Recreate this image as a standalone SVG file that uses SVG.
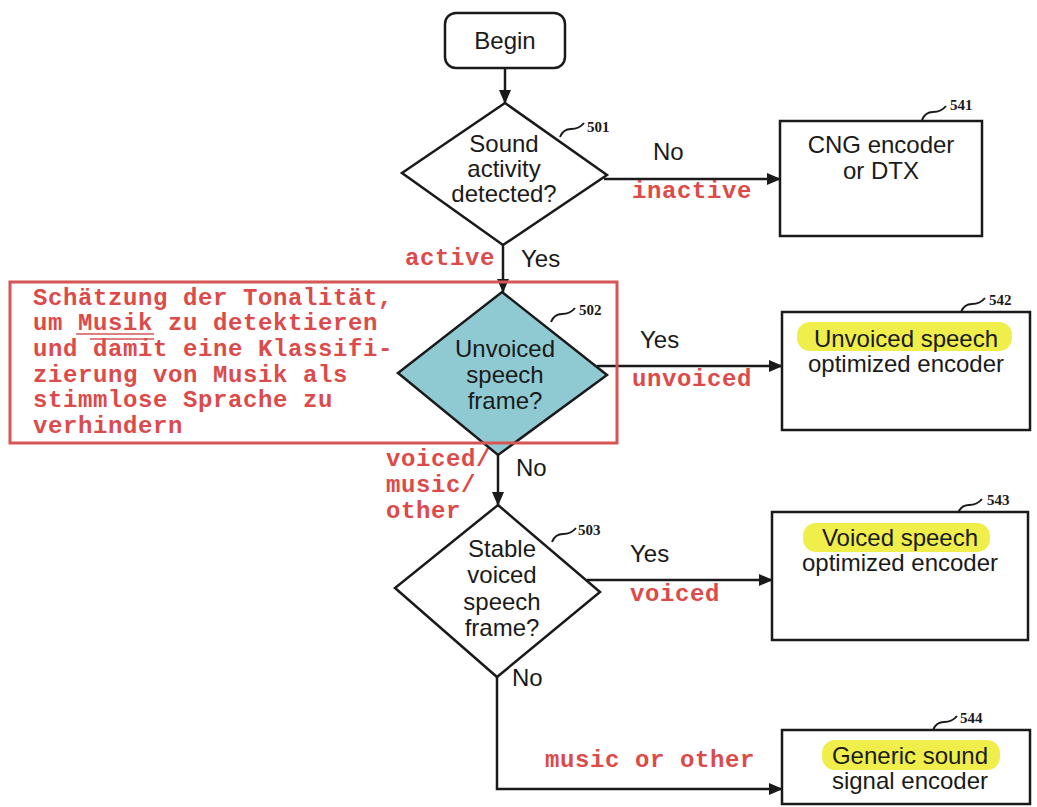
<svg xmlns="http://www.w3.org/2000/svg" width="1037" height="807" viewBox="0 0 1037 807">
<style>
.bg{fill:#ffffff}
.shape{fill:#ffffff;stroke:#1a1a1a;stroke-width:2.5}
.teal{fill:#8fcad3;stroke:#1a1a1a;stroke-width:2.5}
.t{font-family:"Liberation Sans",Arial,sans-serif;font-size:24px;fill:#1a1a1a;text-anchor:middle}
.lbl{font-family:"Liberation Sans",Arial,sans-serif;font-size:24px;fill:#1a1a1a}
.red{font-family:"Liberation Mono","Courier New",monospace;font-size:24px;font-weight:bold;fill:#dc4a4a;letter-spacing:0.6px}
.num{font-family:"Liberation Serif","Times New Roman",serif;font-size:15px;font-weight:bold;fill:#1a1a1a}
.sq{fill:none;stroke:#1a1a1a;stroke-width:2}
.conn{fill:none;stroke:#1a1a1a;stroke-width:2.5}
.hl{fill:#f0ee4a}
.redbox{fill:none;stroke:#d65555;stroke-width:3}
.redline{stroke:#d65555;stroke-width:1.5}
</style>
<defs>
<marker id="ah" markerWidth="14" markerHeight="12" refX="13" refY="6" orient="auto" markerUnits="userSpaceOnUse">
<path d="M0,0 L14,6 L0,12 z" fill="#1a1a1a"/>
</marker>
<path id="sqp" class="sq" d="M0,0 c2,-5 6,-8 11,-8 c5,0 9,-1 13,-6"/>
</defs>
<rect class="bg" x="0" y="0" width="1037" height="807"/>

<g id="connectors">
<line class="conn" x1="505" y1="68" x2="505" y2="103" marker-end="url(#ah)"/>
<line class="conn" x1="604" y1="179" x2="780" y2="179" marker-end="url(#ah)"/>
<line class="conn" x1="503" y1="245" x2="503" y2="292" marker-end="url(#ah)"/>
<line class="conn" x1="597" y1="366" x2="782" y2="366" marker-end="url(#ah)"/>
<line class="conn" x1="498" y1="455" x2="498" y2="505" marker-end="url(#ah)"/>
<line class="conn" x1="587" y1="580" x2="772" y2="580" marker-end="url(#ah)"/>
<polyline class="conn" points="497,677 497,789 782,789" marker-end="url(#ah)"/>
<text class="lbl" x="653" y="160">No</text>
<text class="red" x="632" y="198">inactive</text>
<text class="red" x="405" y="265">active</text>
<text class="lbl" x="521" y="267">Yes</text>
<text class="lbl" x="640" y="348">Yes</text>
<text class="red" x="632" y="386">unvoiced</text>
<text class="lbl" x="516" y="476">No</text>
<text class="red" x="386" y="466">voiced/</text>
<text class="red" x="386" y="492">music/</text>
<text class="red" x="386" y="518">other</text>
<text class="lbl" x="630" y="562">Yes</text>
<text class="red" x="630" y="601">voiced</text>
<text class="lbl" x="512" y="686">No</text>
<text class="red" x="545" y="767">music or other</text>
</g>

<g id="begin">
<rect class="shape" x="445" y="13" width="120" height="55" rx="11"/>
<text class="t" x="505" y="49">Begin</text>
</g>

<g id="n501">
<polygon class="shape" points="505,103 607,175 503,245 402,173"/>
<text class="t" x="504" y="152">Sound</text>
<text class="t" x="504" y="177">activity</text>
<text class="t" x="504" y="202">detected?</text>
<use href="#sqp" transform="translate(560,137)"/>
<text class="num" x="587" y="132">501</text>
</g>

<g id="n541">
<rect class="shape" x="780" y="121" width="202" height="115"/>
<text class="t" x="881" y="153">CNG encoder</text>
<text class="t" x="881" y="179">or DTX</text>
<use href="#sqp" transform="translate(922,120)"/>
<text class="num" x="950" y="110">541</text>
</g>

<g id="n502">
<polygon class="teal" points="502,292 607,375 498,455 398,373"/>
<text class="t" x="505" y="357">Unvoiced</text>
<text class="t" x="505" y="383">speech</text>
<text class="t" x="505" y="409">frame?</text>
<use href="#sqp" transform="translate(551,322)"/>
<text class="num" x="579" y="315">502</text>
</g>

<g id="note">
<rect class="redbox" x="10" y="282" width="607" height="161"/>
<text class="red" x="33" y="305">Schätzung der Tonalität,</text>
<text class="red" x="33" y="330">um Musik zu detektieren</text>
<text class="red" x="33" y="356">und damit eine Klassifi-</text>
<text class="red" x="33" y="382">zierung von Musik als</text>
<text class="red" x="33" y="407">stimmlose Sprache zu</text>
<text class="red" x="33" y="433">verhindern</text>
<line class="redline" x1="76" y1="334" x2="154" y2="334"/>
<line class="redline" x1="90" y1="339" x2="154" y2="339"/>
</g>

<g id="n542">
<rect class="shape" x="782" y="312" width="248" height="118"/>
<rect class="hl" x="797" y="322" width="215" height="29" rx="13"/>
<text class="t" x="906" y="347">Unvoiced speech</text>
<text class="t" x="906" y="372">optimized encoder</text>
<use href="#sqp" transform="translate(961,312)"/>
<text class="num" x="989" y="305">542</text>
</g>

<g id="n503">
<polygon class="shape" points="498,505 600,592 497,677 395,588"/>
<text class="t" x="502" y="557">Stable</text>
<text class="t" x="502" y="583">voiced</text>
<text class="t" x="502" y="610">speech</text>
<text class="t" x="502" y="636">frame?</text>
<use href="#sqp" transform="translate(552,542)"/>
<text class="num" x="578" y="535">503</text>
</g>

<g id="n543">
<rect class="shape" x="772" y="512" width="256" height="128"/>
<rect class="hl" x="803" y="523" width="187" height="29" rx="13"/>
<text class="t" x="900" y="546">Voiced speech</text>
<text class="t" x="900" y="571">optimized encoder</text>
<use href="#sqp" transform="translate(958,513)"/>
<text class="num" x="987" y="505">543</text>
</g>

<g id="n544">
<rect class="shape" x="782" y="730" width="248" height="74"/>
<rect class="hl" x="822" y="740" width="178" height="30" rx="13"/>
<text class="t" x="910" y="764">Generic sound</text>
<text class="t" x="910" y="789">signal encoder</text>
<use href="#sqp" transform="translate(933,730)"/>
<text class="num" x="960" y="723">544</text>
</g>
</svg>
